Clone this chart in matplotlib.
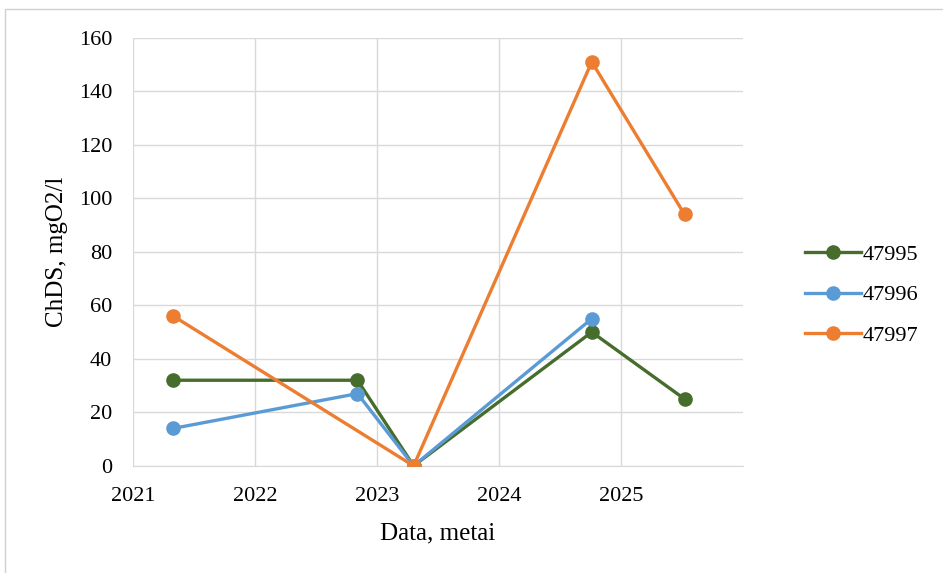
import numpy as np
import matplotlib
matplotlib.use("Agg")
import matplotlib.pyplot as plt
from matplotlib.patches import Rectangle

plt.rcParams['font.family'] = ['Liberation Serif', 'DejaVu Serif']

# sampling dates (decimal years) and ChDS values per well
dates = [2021.33, 2022.84, 2023.30, 2024.76, 2025.52]
well_47995 = [32, 32, 0, 50, 25]
well_47996 = [14, 27, 0, 55, np.nan]
well_47997 = [56, np.nan, 0, 151, 94]

series = [
    ('47995', well_47995, '#476d2c'),
    ('47996', well_47996, '#5b9bd5'),
    ('47997', well_47997, '#ed7d31'),
]

fig = plt.figure(figsize=(9.43, 5.73), dpi=100)
ax = fig.add_axes([0.141, 0.187, 0.647, 0.747])

# light frame round the whole chart area
fig.patches.append(Rectangle((0.005, -0.05), 1.05, 1.034, transform=fig.transFigure,
                             fill=False, edgecolor='#d0d0d0', linewidth=1.0))

x = np.array(dates)
for name, vals, color in series:
    y = np.array(vals, dtype=float)
    ok = ~np.isnan(y)
    ax.plot(x[ok], y[ok], color=color, linewidth=2.4, marker='o',
            markersize=9.5, label=name, zorder=3)

ax.set_xlim(2021, 2026)
ax.set_ylim(0, 160)
ax.set_xticks([2021, 2022, 2023, 2024, 2025])
ax.set_yticks(range(0, 161, 20))
ax.tick_params(axis='both', length=0, labelsize=16, pad=15)
ax.grid(True, color='#d9d9d9', linewidth=1.0)
ax.set_axisbelow(True)
for side in ['top', 'right', 'left']:
    ax.spines[side].set_visible(False)
ax.spines['bottom'].set_color('#d9d9d9')

ax.set_xlabel('Data, metai', fontsize=18, labelpad=12)
ax.set_ylabel('ChDS, mgO2/l', fontsize=18, labelpad=8)

fig.legend(loc='center left', bbox_to_anchor=(0.854, 0.485), frameon=False,
           fontsize=16, handlelength=2.5, labelspacing=0.9, handletextpad=0.1,
           borderpad=0, borderaxespad=0)

fig.savefig('out.png', dpi=100)
